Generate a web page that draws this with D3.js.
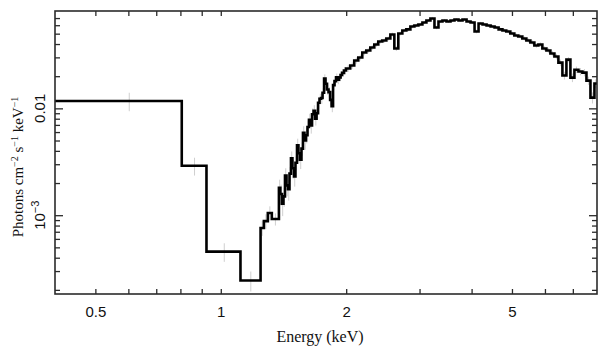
<!DOCTYPE html>
<html>
<head>
<meta charset="utf-8">
<script src="https://cdn.jsdelivr.net/npm/d3@7"></script>
<style>
  html, body { margin: 0; padding: 0; background: #fff; }
  svg { display: block; }
</style>
</head>
<body>
<svg id="chart" width="609" height="357"></svg>
<script>
// ---- Data ----
// Energy bin edges (keV)
const binEdges = [0.4, 0.806, 0.924, 1.115, 1.246, 1.269, 1.297, 1.326, 1.379,
  1.390, 1.402, 1.414, 1.426, 1.438, 1.450, 1.462, 1.474, 1.486, 1.499, 1.511, 1.524,
  1.536, 1.549, 1.562, 1.575, 1.588, 1.602, 1.615, 1.628, 1.642, 1.656, 1.670, 1.684,
  1.698, 1.712, 1.726, 1.741, 1.755, 1.770, 1.784, 1.799, 1.814, 1.830, 1.845, 1.860,
  1.875, 1.891, 1.907, 1.923, 1.939, 1.955, 1.976, 1.998,
  2.045, 2.091, 2.138, 2.186, 2.235, 2.285, 2.336, 2.388, 2.442, 2.497, 2.553,
  2.610, 2.668, 2.728, 2.789, 2.852, 2.916, 2.981, 3.048, 3.116, 3.186, 3.258,
  3.331, 3.405, 3.482, 3.560, 3.639, 3.721, 3.804, 3.890, 3.977, 4.066, 4.157,
  4.250, 4.345, 4.443, 4.542, 4.644, 4.744, 4.845, 4.955, 5.066, 5.179, 5.295,
  5.414, 5.535, 5.659, 5.786, 5.915, 6.048, 6.183, 6.322, 6.463, 6.608, 6.756,
  6.907, 7.062, 7.220, 7.381, 7.547, 7.716, 7.888, 8.0];

// Photons cm^-2 s^-1 keV^-1 in each bin
const flux = [0.0117, 0.0029, 0.000456, 0.000245, 0.00076, 0.00088, 0.00105, 0.00092,
  0.00180, 0.00158, 0.00128, 0.00150, 0.00235, 0.00190, 0.00175, 0.00245,
  0.00340, 0.00275, 0.00230, 0.00310, 0.00450, 0.00380, 0.00330, 0.00420,
  0.00590, 0.00500, 0.00560, 0.00670, 0.00780, 0.00690, 0.00880, 0.00950,
  0.00800, 0.00900, 0.01130, 0.01230, 0.01250, 0.01400, 0.01900, 0.01700,
  0.01500, 0.01420, 0.01200, 0.01050, 0.01650, 0.01800, 0.01950, 0.01850,
  0.01950, 0.02050, 0.02150, 0.02260,
  0.02357, 0.02515, 0.02802, 0.0299, 0.0333, 0.03478, 0.0371, 0.0396, 0.0423, 0.04318,
  0.04508, 0.04915, 0.03631, 0.0502, 0.05358, 0.0548, 0.05841, 0.0597, 0.06099, 0.06368,
  0.06648, 0.06942, 0.0571, 0.0651, 0.06648, 0.0651, 0.06648, 0.0679, 0.06648, 0.0679,
  0.0651, 0.06368, 0.0524, 0.0623, 0.06099, 0.0597, 0.05841, 0.0571, 0.0548, 0.05358,
  0.0524, 0.0502, 0.0481, 0.04707, 0.04508, 0.04318, 0.04135, 0.0388, 0.0396, 0.03631,
  0.03478, 0.03259, 0.03055, 0.0268, 0.0203, 0.0286, 0.0194, 0.0230, 0.0221, 0.02162,
  0.01819, 0.0126, 0.0171];

// 1-sigma errors on flux
const fluxErr = [0.0023, 0.00055, 0.00009, 0.000052, 0.00012, 0.00014, 0.00016, 0.00012,
  0.00035, 0.00035, 0.00030, 0.00030, 0.00040, 0.00040, 0.00038, 0.00038,
  0.00055, 0.00055, 0.00045, 0.00045, 0.0007, 0.0007, 0.0006, 0.0006,
  0.0009, 0.0009, 0.0009, 0.0009, 0.0011, 0.0011, 0.0012, 0.0012,
  0.0011, 0.0011, 0.0014, 0.0014, 0.0015, 0.0015, 0.0018, 0.0018,
  0.0016, 0.0016, 0.0013, 0.0013, 0.0017, 0.0017, 0.0017, 0.0017,
  0.0017, 0.0017, 0.0018, 0.0018,
  0.0017, 0.0017, 0.0018, 0.0018, 0.0019, 0.0019, 0.002, 0.002, 0.002, 0.002,
  0.002, 0.0021, 0.0019, 0.0021, 0.0021, 0.0021, 0.0022, 0.0022, 0.0022, 0.0022,
  0.0022, 0.0023, 0.0021, 0.0022, 0.0022, 0.0022, 0.0022, 0.0022, 0.0022, 0.0022,
  0.0022, 0.0022, 0.002, 0.0022, 0.0022, 0.0022, 0.0022, 0.0021, 0.0021, 0.0021,
  0.0021, 0.0021, 0.002, 0.002, 0.002, 0.002, 0.002, 0.0019, 0.0019, 0.0019,
  0.0019, 0.0019, 0.0018, 0.0018, 0.0017, 0.0016, 0.0018, 0.0016, 0.0017, 0.0017,
  0.0016, 0.0015, 0.0016];

const xMajorTicks = [0.5, 1, 2, 5];
const xMinorTicks = [0.6, 0.7, 0.8, 0.9, 3, 4, 6, 7];
const yMajorTicks = [0.001, 0.01];
const yMinorTicks = [0.0002, 0.0003, 0.0004, 0.0005, 0.0006, 0.0007, 0.0008, 0.0009,
  0.002, 0.003, 0.004, 0.005, 0.006, 0.007, 0.008, 0.009,
  0.02, 0.03, 0.04, 0.05, 0.06, 0.07];
const xDomain = [0.4, 8.0];
const yDomain = [1.83e-4, 0.0815];

// ---- Layout ----
const svg = d3.select("#chart");
const plot = { left: 55, right: 597, top: 11, bottom: 294 };
const x = d3.scaleLog().domain(xDomain).range([plot.left, plot.right]);
const y = d3.scaleLog().domain(yDomain).range([plot.bottom, plot.top]);
const frameColor = "#2b2b2b";
const sansFont = "'Liberation Sans', Arial, Helvetica, sans-serif";
const serifFont = "'Liberation Serif', 'Times New Roman', serif";

svg.append("defs").append("clipPath").attr("id", "clip")
  .append("rect")
  .attr("x", plot.left).attr("y", plot.top)
  .attr("width", plot.right - plot.left).attr("height", plot.bottom - plot.top);

const bins = flux.map((v, i) => ({
  lo: binEdges[i], hi: binEdges[i + 1], v: v, e: fluxErr[i] || 0
})).filter(d => d.hi !== undefined);

const g = svg.append("g").attr("clip-path", "url(#clip)");

// error bars (light grey)
g.selectAll("line.err").data(bins).enter().append("line")
  .attr("class", "err")
  .attr("x1", d => x((d.lo + d.hi) / 2))
  .attr("x2", d => x((d.lo + d.hi) / 2))
  .attr("y1", d => y(d.v + d.e))
  .attr("y2", d => y(Math.max(d.v - d.e, 1e-6)))
  .attr("stroke", "#cfcfcf")
  .attr("stroke-width", 1);

// step line
const pts = [];
bins.forEach(d => { pts.push([d.lo, d.v]); pts.push([d.hi, d.v]); });
const line = d3.line().x(p => x(p[0])).y(p => y(p[1]));
g.append("path")
  .attr("d", line(pts))
  .attr("fill", "none")
  .attr("stroke", "#000")
  .attr("stroke-width", 2.6)
  .attr("stroke-linejoin", "miter");

// ---- Axes (ticks pointing inward, mirrored) ----
function styleAxis(sel) {
  sel.select(".domain").remove();
  sel.selectAll(".tick line").attr("stroke", frameColor).attr("stroke-width", 1.3);
}

// bottom
const xAxisB = svg.append("g").attr("transform", `translate(0,${plot.bottom})`)
  .call(d3.axisBottom(x).tickValues(xMajorTicks).tickSize(-5).tickPadding(12)
    .tickFormat(d3.format("")));
styleAxis(xAxisB);
xAxisB.selectAll("text").attr("font-family", sansFont).attr("font-size", 15).attr("fill", "#111");
svg.append("g").attr("transform", `translate(0,${plot.bottom})`)
  .call(d3.axisBottom(x).tickValues(xMinorTicks).tickSize(-5).tickFormat(""))
  .call(styleAxis);
// top
svg.append("g").attr("transform", `translate(0,${plot.top})`)
  .call(d3.axisTop(x).tickValues(xMajorTicks.concat(xMinorTicks)).tickSize(-5).tickFormat(""))
  .call(styleAxis);

// left
const yAxisL = svg.append("g").attr("transform", `translate(${plot.left},0)`)
  .call(d3.axisLeft(y).tickValues(yMajorTicks).tickSize(-8).tickFormat(""));
styleAxis(yAxisL);
svg.append("g").attr("transform", `translate(${plot.left},0)`)
  .call(d3.axisLeft(y).tickValues(yMinorTicks).tickSize(-5).tickFormat(""))
  .call(styleAxis);
// right
svg.append("g").attr("transform", `translate(${plot.right},0)`)
  .call(d3.axisRight(y).tickValues(yMajorTicks).tickSize(-8).tickFormat(""))
  .call(styleAxis);
svg.append("g").attr("transform", `translate(${plot.right},0)`)
  .call(d3.axisRight(y).tickValues(yMinorTicks).tickSize(-5).tickFormat(""))
  .call(styleAxis);

// y tick labels, rotated
const yLab = svg.append("g");
yMajorTicks.forEach(v => {
  const t = yLab.append("text")
    .attr("transform", `translate(45,${y(v)}) rotate(-90)`)
    .attr("text-anchor", "middle")
    .attr("font-family", sansFont).attr("font-size", 15).attr("fill", "#111");
  if (v === 0.01) {
    t.text("0.01");
  } else {
    const ex = Math.round(Math.log10(v));
    t.append("tspan").text("10");
    t.append("tspan").attr("dy", -6).attr("font-size", 11).text("\u2212" + Math.abs(ex));
  }
});

// frame
svg.append("rect")
  .attr("x", plot.left).attr("y", plot.top)
  .attr("width", plot.right - plot.left).attr("height", plot.bottom - plot.top)
  .attr("fill", "none").attr("stroke", frameColor).attr("stroke-width", 1.6);

// axis titles
svg.append("text")
  .attr("x", (plot.left + plot.right) / 2 - 6).attr("y", 342)
  .attr("text-anchor", "middle")
  .attr("font-family", serifFont).attr("font-size", 16).attr("fill", "#111")
  .text("Energy (keV)");

const yt = svg.append("text")
  .attr("transform", `translate(23,167) rotate(-90)`)
  .attr("text-anchor", "middle")
  .attr("font-family", serifFont).attr("font-size", 15).attr("fill", "#111");
yt.append("tspan").text("Photons cm");
yt.append("tspan").attr("dy", -5).attr("font-size", 10).text("\u22122");
yt.append("tspan").attr("dy", 5).text(" s");
yt.append("tspan").attr("dy", -5).attr("font-size", 10).text("\u22121");
yt.append("tspan").attr("dy", 5).text(" keV");
yt.append("tspan").attr("dy", -5).attr("font-size", 10).text("\u22121");
</script>
</body>
</html>
